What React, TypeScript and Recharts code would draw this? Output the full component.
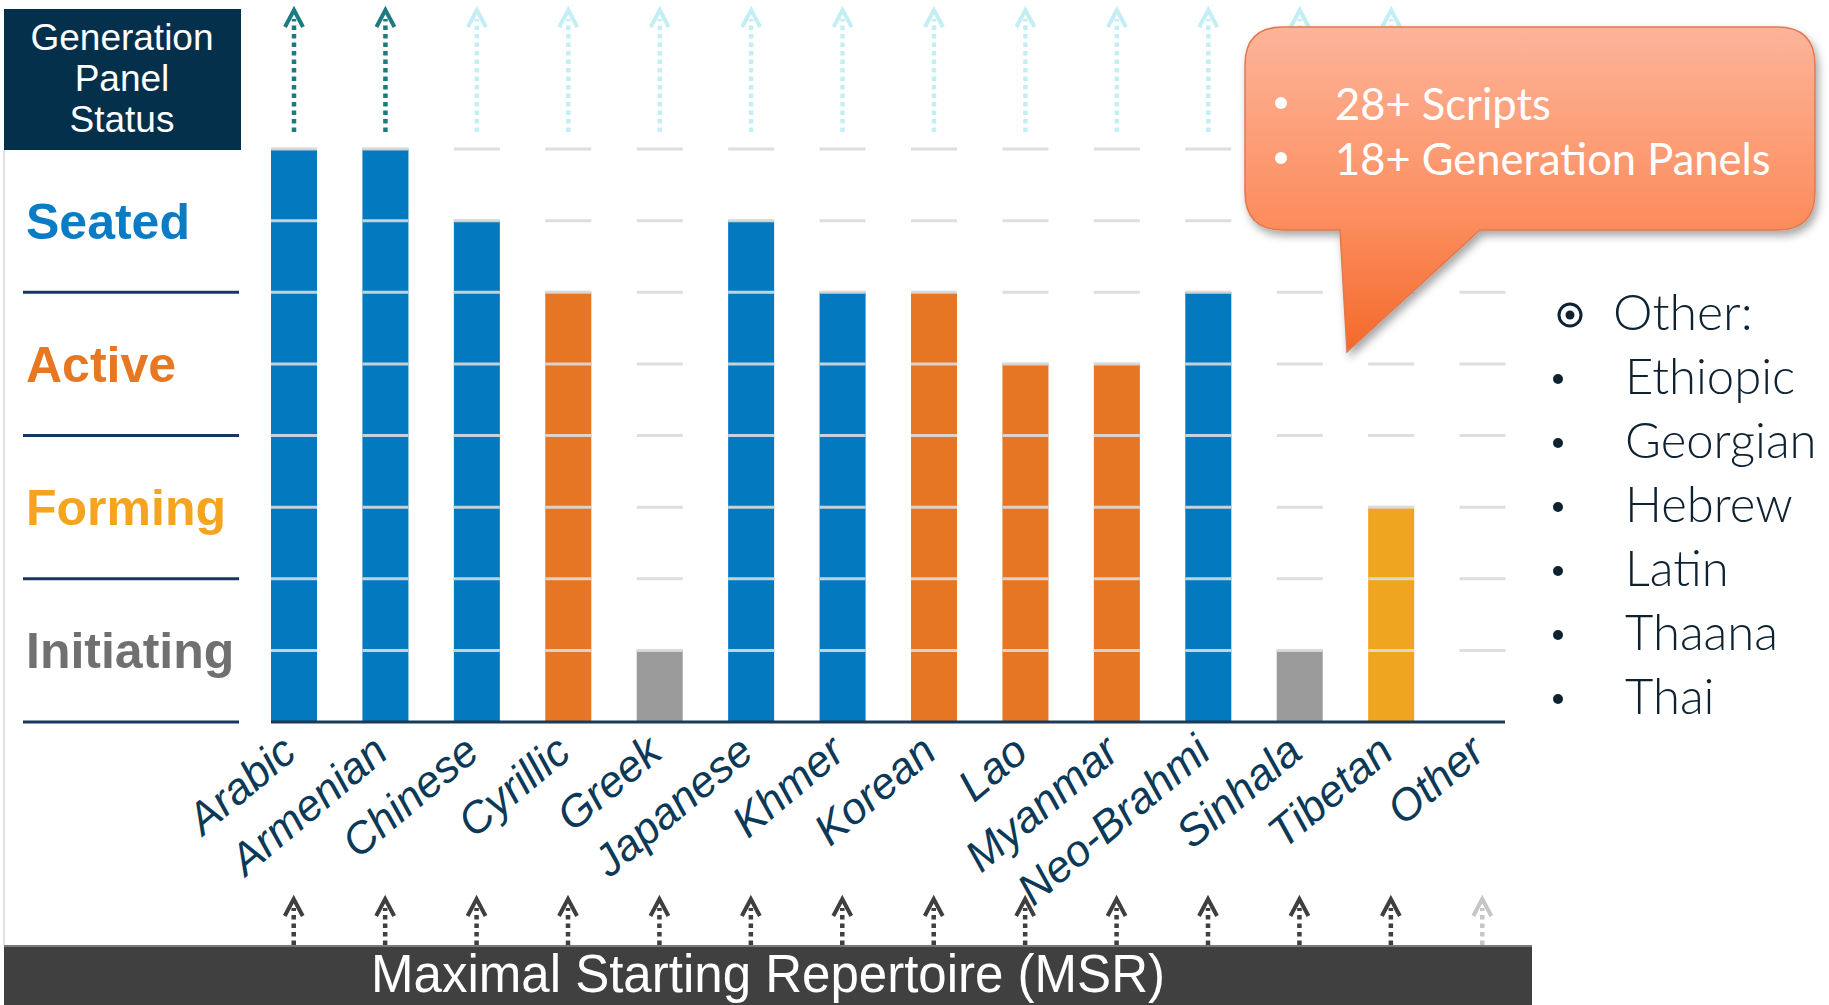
import { BarChart, Bar, XAxis, YAxis, ReferenceLine } from 'recharts';

const scripts = [
  'Arabic', 'Armenian', 'Chinese', 'Cyrillic', 'Greek', 'Japanese', 'Khmer',
  'Korean', 'Lao', 'Myanmar', 'Neo-Brahmi', 'Sinhala', 'Tibetan', 'Other',
];
// 0 = none ... 8 = top of "Seated"
const levels = [8, 8, 7, 6, 1, 7, 6, 6, 5, 5, 6, 1, 3, 0];
const statuses = [
  'Seated', 'Seated', 'Seated', 'Active', 'Initiating', 'Seated', 'Seated',
  'Active', 'Active', 'Active', 'Seated', 'Initiating', 'Forming', 'None',
];
// arrow on top: done = LGR finished, open = still to come, none = no panel
const lgrState = [
  'done', 'done', 'open', 'open', 'open', 'open', 'open',
  'open', 'open', 'open', 'open', 'open', 'open', 'none',
];
// dark arrow at the bottom = covered by MSR
const inMsr = [true, true, true, true, true, true, true, true, true, true, true, true, true, false];

const statusTicks = [0, 1, 2, 3, 4, 5, 6, 7];
const statusNames: Record<number, string> = { 1: 'Initiating', 3: 'Forming', 5: 'Active', 7: 'Seated' };
const headerLines = ['Generation', 'Panel', 'Status'];
const highlights = ['28+ Scripts', '18+ Generation Panels'];
const otherScripts = ['Ethiopic', 'Georgian', 'Hebrew', 'Latin', 'Thaana', 'Thai'];

const MAX_LEVEL = 8;
const BAR = 46;

const barColor: Record<string, string> = {
  Seated: '#0379BF',
  Active: '#E67624',
  Forming: '#F0A520',
  Initiating: '#9B9B9B',
  None: '#FFFFFF',
};
const labelColor: Record<string, string> = {
  Seated: '#0A7CC5',
  Active: '#E87722',
  Forming: '#F4A41F',
  Initiating: '#707070',
};
const arrowColor: Record<string, string> = { done: '#1B7B80', open: '#C3EFF4' };

const data = scripts.map((name, i) => ({ name, level: levels[i], status: statuses[i] }));

const ARIAL = '"Liberation Sans", Arial, sans-serif';
const CALIBRI = 'Lato, "Open Sans", sans-serif';

function Arrow({ cx, tip, bottom, color }: { cx: number; tip: number; bottom: number; color: string }) {
  return (
    <g>
      <line x1={cx} x2={cx} y1={bottom} y2={tip + 9} stroke={color} strokeWidth={4.5} strokeDasharray="4.5 4" />
      <polyline
        points={`${cx - 9},${tip + 17} ${cx},${tip} ${cx + 9},${tip + 17}`}
        fill="none"
        stroke={color}
        strokeWidth={4}
      />
    </g>
  );
}

function UnitBar(props: any) {
  const { x, y, width, height, payload } = props;
  if (!payload || !payload.level || !(height > 0)) return null;
  const unit = height / payload.level;
  const seps = [];
  for (let k = 0; k < payload.level; k++) {
    seps.push(
      <line key={k} x1={x} x2={x + width} y1={y + k * unit} y2={y + k * unit} stroke="#DCDCDC" strokeOpacity={0.9} strokeWidth={3} />
    );
  }
  return (
    <g>
      <rect x={x} y={y} width={width} height={height} fill={barColor[payload.status]} />
      {seps}
    </g>
  );
}

function LevelGuides(props: any) {
  const { x, y, width, height } = props;
  let i = props.index;
  if (i === undefined && props.payload) i = scripts.indexOf(props.payload.name);
  const unit = height / MAX_LEVEL;
  const segs = [];
  for (let k = 0; k < MAX_LEVEL; k++) {
    segs.push(
      <line key={k} x1={x} x2={x + width} y1={y + k * unit} y2={y + k * unit} stroke="#DEDEDE" strokeWidth={3} />
    );
  }
  const cx = x + width / 2;
  const state = lgrState[i];
  return (
    <g>
      {segs}
      {state !== 'none' && <Arrow cx={cx} tip={y - 139} bottom={y - 17} color={arrowColor[state]} />}
    </g>
  );
}

function ScriptTick(props: any) {
  const { x, y, payload } = props;
  let i = props.index;
  if (i === undefined) i = scripts.indexOf(payload.value);
  return (
    <g>
      <text
        transform={`translate(${x + 5},${y + 34}) rotate(-40)`}
        textAnchor="end"
        fontFamily={ARIAL}
        fontStyle="italic"
        fontSize={44}
        fill="#0B3957"
      >
        {payload.value}
      </text>
      <Arrow cx={x} tip={y + 177} bottom={y + 223} color={inMsr[i] ? '#3F3F3F' : '#C6C6C6'} />
    </g>
  );
}

function StatusTick(props: any) {
  const { y, payload } = props;
  const name = statusNames[payload.value];
  if (name) {
    return (
      <text x={26} y={y + 18} fontFamily={ARIAL} fontWeight="bold" fontSize={50} fill={labelColor[name]}>
        {name}
      </text>
    );
  }
  return <line x1={23} x2={239} y1={y} y2={y} stroke="#17375E" strokeWidth={3} />;
}

function Baseline(props: any) {
  const { x1, x2, y1 } = props;
  const inset = 23;
  return <line x1={x1 + inset} x2={x2 - inset} y1={y1} y2={y1} stroke="#1B3A57" strokeWidth={3} />;
}

function Overlay() {
  const L = 1245, T = 27, R = 1815, B = 230, r = 38;
  const bubble = `M ${L + r},${T} H ${R - r} Q ${R},${T} ${R},${T + r} V ${B - r} Q ${R},${B} ${R - r},${B}
    H 1480 L 1347,352 L 1340,${B} H ${L + r} Q ${L},${B} ${L},${B - r} V ${T + r} Q ${L},${T} ${L + r},${T} Z`;
  return (
    <svg width={1829} height={1005} style={{ position: 'absolute', left: 0, top: 0, pointerEvents: 'none' }}>
      <defs>
        <linearGradient id="bubbleFill" x1="0" y1="0" x2="0" y2="1">
          <stop offset="0%" stopColor="#FDB49A" />
          <stop offset="60%" stopColor="#FC8D5D" />
          <stop offset="100%" stopColor="#F3692A" />
        </linearGradient>
        <filter id="bubbleShadow" x="-10%" y="-10%" width="120%" height="130%">
          <feDropShadow dx="3" dy="5" stdDeviation="4" floodColor="#000" floodOpacity="0.35" />
        </filter>
      </defs>

      {/* header box */}
      <rect x={4} y={9} width={237} height={141} fill="#04304C" />
      {headerLines.map((t, k) => (
        <text key={t} x={122} y={50 + k * 41} textAnchor="middle" fontFamily={ARIAL} fontSize={37} fill="#FFFFFF">
          {t}
        </text>
      ))}
      <line x1={4} x2={4} y1={150} y2={945} stroke="#D6D6D6" strokeWidth={1.5} />

      {/* MSR band */}
      <rect x={4} y={945} width={1528} height={60} fill="#404040" />
      <line x1={4} x2={1532} y1={946} y2={946} stroke="#7A7A7A" strokeWidth={2} />
      <text x={768} y={992} textAnchor="middle" fontFamily={ARIAL} fontSize={54} fill="#FFFFFF" textLength={794} lengthAdjust="spacingAndGlyphs">
        Maximal Starting Repertoire (MSR)
      </text>

      {/* callout */}
      <path d={bubble} fill="url(#bubbleFill)" stroke="#E07A4E" strokeWidth={1.5} filter="url(#bubbleShadow)" />
      {highlights.map((t, k) => (
        <g key={t}>
          <circle cx={1281} cy={103 + k * 55} r={6} fill="#FFFFFF" />
          <text x={1335} y={120 + k * 55} fontFamily={CALIBRI} fontSize={43.5} fill="#FFFFFF">
            {t}
          </text>
        </g>
      ))}

      {/* other scripts list */}
      <circle cx={1570} cy={315} r={11} fill="none" stroke="#0E2231" strokeWidth={3} />
      <circle cx={1570} cy={315} r={4.5} fill="#0E2231" />
      <text x={1613} y={330} fontFamily={CALIBRI} fontWeight={300} fontSize={50} fill="#0E2231">
        Other:
      </text>
      {otherScripts.map((t, k) => (
        <g key={t}>
          <circle cx={1558} cy={379 + k * 64} r={5} fill="#0E2231" />
          <text x={1625} y={394 + k * 64} fontFamily={CALIBRI} fontWeight={300} fontSize={49} fill="#0E2231">
            {t}
          </text>
        </g>
      ))}
    </svg>
  );
}

export default function App() {
  return (
    <div style={{ position: 'absolute', left: 0, top: 0, width: 1829, height: 1005, background: '#FFFFFF' }}>
      <BarChart width={1829} height={1005} data={data} margin={{ top: 149, right: 301, bottom: 83, left: 4 }}>
        <XAxis
          dataKey="name"
          interval={0}
          height={200}
          axisLine={false}
          tickLine={false}
          tickSize={0}
          tickMargin={0}
          tick={<ScriptTick />}
        />
        <YAxis
          type="number"
          domain={[0, MAX_LEVEL]}
          ticks={statusTicks}
          interval={0}
          width={244}
          axisLine={false}
          tickLine={false}
          tick={<StatusTick />}
        />
        <Bar
          dataKey="level"
          barSize={BAR}
          isAnimationActive={false}
          background={<LevelGuides />}
          shape={<UnitBar />}
        />
        <ReferenceLine y={0} shape={<Baseline />} />
      </BarChart>
      <Overlay />
    </div>
  );
}
